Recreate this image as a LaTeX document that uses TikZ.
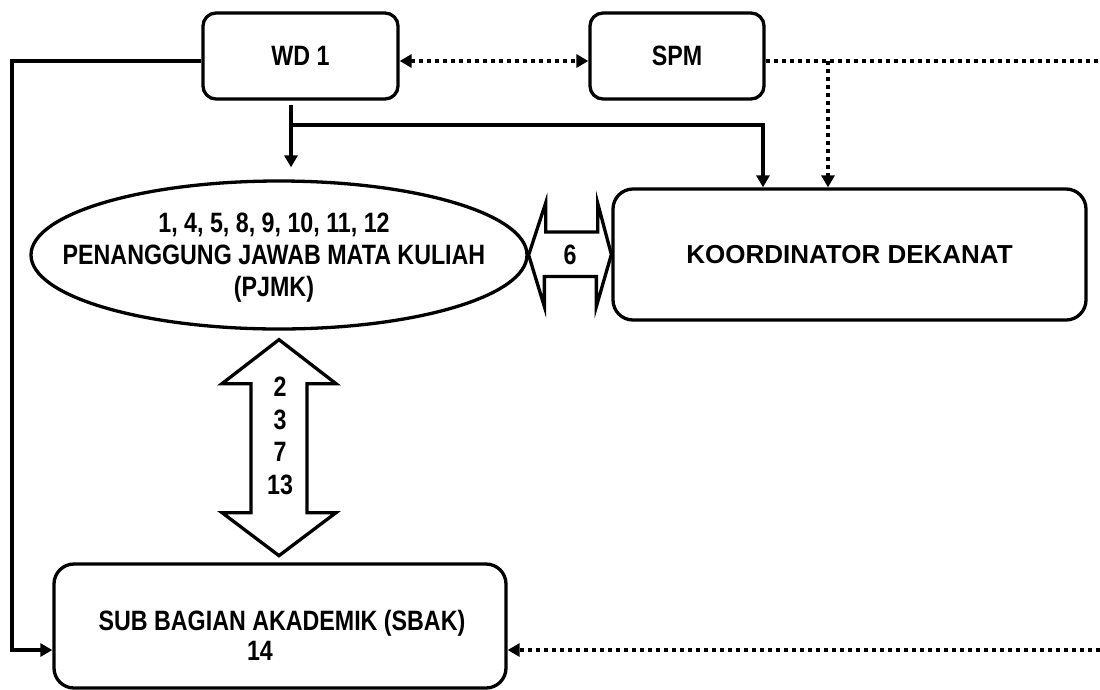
\documentclass[tikz,border=0pt]{standalone}
\usepackage{fontspec}
\setmainfont{Liberation Sans}
\newfontfamily\narrowsans[FakeStretch=0.83]{Liberation Sans}
\usetikzlibrary{positioning,arrows.meta,shapes.geometric,calc}

\begin{document}
\begin{tikzpicture}[x=1pt, y=-1pt, line width=3.3pt,
        font=\narrowsans\bfseries\fontsize{28}{32}\selectfont,
        main/.style = {draw, rectangle, rounded corners=13pt, inner sep=0pt},
        big/.style = {draw, rectangle, rounded corners=20pt, inner sep=0pt},
        oval/.style = {draw, ellipse, inner sep=0pt},
        txt/.style = {align=center, inner sep=0pt},
        link/.style = {-{Triangle[length=12pt,width=13pt]}},
        dots/.style = {dash pattern=on 4pt off 4pt},
        fat/.style = {draw, fill=white, miter limit=20}]
    \useasboundingbox (0,0) rectangle (1100,689);

    \node[main, minimum width=195pt, minimum height=86pt] (wd) at (300.5,56) {WD 1};
    \node[main, minimum width=174pt, minimum height=86pt] (spm) at (677,56) {SPM};
    \node[big, minimum width=473pt, minimum height=131pt,
        font=\rmfamily\bfseries\fontsize{26}{32}\selectfont] (koord) at (849.5,254.5) {KOORDINATOR DEKANAT};
    \node[oval, minimum width=496pt, minimum height=148pt] (pjmk) at (279,255) {};
    \node[txt] (pjmktxt) at (274,258) {1, 4, 5, 8, 9, 10, 11, 12\\PENANGGUNG JAWAB MATA KULIAH\\(PJMK)};
    \node[big, minimum width=452pt, minimum height=124pt] (sbak) at (280,626) {};
    \node[txt, font=\narrowsans\bfseries\fontsize{28}{30}\selectfont] (sbaktxt) at (282,635)
        {SUB BAGIAN AKADEMIK (SBAK)\\14\hspace*{44pt}};

    % free ends
    \coordinate (wdout) at (291,105);
    \coordinate (br) at (291,125);
    \coordinate (pjin) at ([yshift=12pt]pjmk.north);
    \coordinate (lc) at (12,650);
    \coordinate (sb) at (828,61);
    \coordinate (rt) at (1100,61);
    \coordinate (rb) at (1100,650);

    % solid lines
    \draw[link] (wdout) -- (wdout |- pjin);
    \draw[link] (br) -| ([xshift=-86.5pt]koord.north);
    \draw[link] ([yshift=-5pt]wd.west) -| (lc) -- ([yshift=-24pt]sbak.west);

    % dotted lines
    \draw[dots, {Triangle[length=12pt,width=13pt]}-{Triangle[length=12pt,width=13pt]}]
        ([yshift=-5pt]wd.east) -- ([yshift=-5pt]spm.east -| spm.west);
    \draw[dots] ([yshift=-5pt]spm.east) -- (rt);
    \draw[dots, link] (sb) -- (sb |- koord.north);
    \draw[dots, link] (rb) -- ([yshift=-24pt]sbak.east);

    % fat arrows
    \draw[fat] (pjmk.east) -- ++(17,-52) -- ++(0,29) -- ++(52,0) -- ++(0,-29) -- (koord.west)
        -- ++(-15,52) -- ++(0,-30) -- ++(-52,0) -- ++(0,30) -- cycle;
    \node[txt] (six) at (570,255) {6};
    \draw[fat] ([yshift=-9pt]pjmk.south) -- ++(57,44) -- ++(-29,0) -- ++(0,129) -- ++(29,0)
        -- ++(-57,43) -- ++(-57,-43) -- ++(29,0) -- ++(0,-129) -- ++(-29,0) -- cycle;
    \node[txt, font=\narrowsans\bfseries\fontsize{28}{32.7}\selectfont] (nums) at (280,436) {2\\3\\7\\13};
\end{tikzpicture}
\end{document}
